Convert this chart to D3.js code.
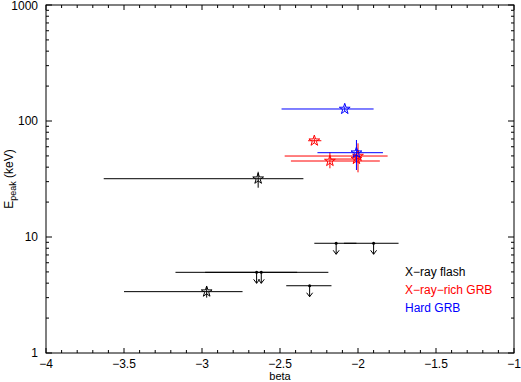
<!DOCTYPE html>
<html>
<head>
<meta charset="utf-8">
<script src="https://cdn.jsdelivr.net/npm/d3@7"></script>
<style>
  body { margin: 0; background: #fff; }
  text { font-family: "Liberation Sans", Arial, sans-serif; }
</style>
</head>
<body>
<div id="canvas"></div>
<script>
// X-ray flashes (black), stars are detections, the rest upper limits
const flashBeta   = [-2.64, -2.97, -2.62, -2.65, -2.31, -2.14, -1.90];
const flashBetaLo = [-3.63, -3.50, -3.17, -2.98, -2.46, -2.28, -2.09];
const flashBetaHi = [-2.35, -2.74, -2.19, -2.39, -2.17, -2.01, -1.74];
const flashE      = [31.8, 3.38, 4.96, 4.96, 3.80, 8.83, 8.83];
const flashELo    = [26.6, 3.0, null, null, null, null, null];
const flashEHi    = [36.5, 3.7, null, null, null, null, null];
const flashLimit  = [false, false, true, true, true, true, true];

// X-ray-rich GRBs (red)
const richBeta   = [-2.28, -2.00, -2.18, -2.01];
const richBetaLo = [-2.32, -2.47, -2.43, -2.18];
const richBetaHi = [-2.235, -1.81, -1.86, -1.98];
const richE      = [67.6, 49.9, 45.2, 47.0];
const richELo    = [64.5, 36.1, 39.1, 44.5];
const richEHi    = [71.0, 64.2, 53.7, 49.5];

// Hard GRBs (blue)
const hardBeta   = [-2.085, -2.01];
const hardBetaLo = [-2.49, -2.26];
const hardBetaHi = [-1.90, -1.84];
const hardE      = [126.9, 53.3];
const hardELo    = [121, 37.8];
const hardEHi    = [133, 68.6];

const xTicks = [-4, -3.5, -3, -2.5, -2, -1.5, -1];
const yTicks = [1, 10, 100, 1000];
const legendLabels = ["X\u2212ray flash", "X\u2212ray\u2212rich GRB", "Hard GRB"];
const legendColors = ["black", "red", "blue"];

const width = 521, height = 382;
const plotLeft = 46, plotRight = 514, plotTop = 5, plotBottom = 353;

const svg = d3.select("#canvas").append("svg")
    .attr("width", width)
    .attr("height", height);

const x = d3.scaleLinear().domain([-4, -1]).range([plotLeft, plotRight]);
const y = d3.scaleLog().domain([1, 1000]).range([plotBottom, plotTop]);

// frame
svg.append("rect")
    .attr("x", plotLeft).attr("y", plotTop)
    .attr("width", plotRight - plotLeft).attr("height", plotBottom - plotTop)
    .attr("fill", "none").attr("stroke", "black");

// x ticks on bottom and top, pointing inward
const xMinor = d3.range(-4, -0.99, 0.1).map(v => Math.round(v * 10) / 10);
xMinor.forEach(v => {
    const major = xTicks.includes(v);
    const len = major ? 5 : 3;
    svg.append("line").attr("x1", x(v)).attr("x2", x(v))
        .attr("y1", plotBottom).attr("y2", plotBottom - len).attr("stroke", "black");
    svg.append("line").attr("x1", x(v)).attr("x2", x(v))
        .attr("y1", plotTop).attr("y2", plotTop + len).attr("stroke", "black");
});

// y ticks on left and right
const yAll = [];
[1, 10, 100].forEach(d => d3.range(1, 10).forEach(m => yAll.push(d * m)));
yAll.push(1000);
yAll.forEach(v => {
    const major = yTicks.includes(v);
    const len = major ? 6 : 3;
    svg.append("line").attr("x1", plotLeft).attr("x2", plotLeft + len)
        .attr("y1", y(v)).attr("y2", y(v)).attr("stroke", "black");
    svg.append("line").attr("x1", plotRight).attr("x2", plotRight - len)
        .attr("y1", y(v)).attr("y2", y(v)).attr("stroke", "black");
});

svg.append("g").selectAll("text").data(xTicks).join("text")
    .attr("x", d => x(d)).attr("y", 368)
    .attr("text-anchor", "middle").attr("font-size", 12)
    .text(d => d3.format("")(d).replace("-", "\u2212"));

svg.append("g").selectAll("text").data(yTicks).join("text")
    .attr("x", 38).attr("y", d => Math.max(y(d) + 4, 10))
    .attr("text-anchor", "end").attr("font-size", 12)
    .text(d => d);

svg.append("text").attr("x", x(-2.5)).attr("y", 380)
    .attr("text-anchor", "middle").attr("font-size", 11).text("beta");

const yl = svg.append("text")
    .attr("transform", `translate(13,${(plotTop + plotBottom) / 2}) rotate(-90)`)
    .attr("text-anchor", "middle").attr("font-size", 12);
yl.append("tspan").text("E");
yl.append("tspan").attr("dy", 3).attr("font-size", 9).text("peak");
yl.append("tspan").attr("dy", -3).text(" (keV)");

const star = d3.symbol().type(d3.symbolStar).size(36);

function drawSeries(color, beta, lo, hi, e, eLo, eHi, limit) {
    const g = svg.append("g");
    beta.forEach((b, i) => {
        const px = x(b), py = y(e[i]);
        g.append("line").attr("x1", x(lo[i])).attr("x2", x(hi[i]))
            .attr("y1", py).attr("y2", py).attr("stroke", color);
        if (limit && limit[i]) {
            g.append("circle").attr("cx", px).attr("cy", py).attr("r", 1.5).attr("fill", color);
            g.append("line").attr("x1", px).attr("x2", px)
                .attr("y1", py).attr("y2", py + 11).attr("stroke", color);
            g.append("path")
                .attr("d", `M${px - 3},${py + 7}L${px},${py + 11}L${px + 3},${py + 7}`)
                .attr("fill", "none").attr("stroke", color);
        } else {
            g.append("line").attr("x1", px).attr("x2", px)
                .attr("y1", y(eLo[i])).attr("y2", y(eHi[i])).attr("stroke", color);
            g.append("path").attr("d", star)
                .attr("transform", `translate(${px},${py})`)
                .attr("fill", "none").attr("stroke", color);
        }
    });
}

drawSeries("black", flashBeta, flashBetaLo, flashBetaHi, flashE, flashELo, flashEHi, flashLimit);
drawSeries("red", richBeta, richBetaLo, richBetaHi, richE, richELo, richEHi, null);
drawSeries("blue", hardBeta, hardBetaLo, hardBetaHi, hardE, hardELo, hardEHi, null);

svg.append("g").selectAll("text").data(legendLabels).join("text")
    .attr("x", 405).attr("y", (d, i) => 276 + i * 18)
    .attr("font-size", 12)
    .attr("fill", (d, i) => legendColors[i])
    .text(d => d);
</script>
</body>
</html>
